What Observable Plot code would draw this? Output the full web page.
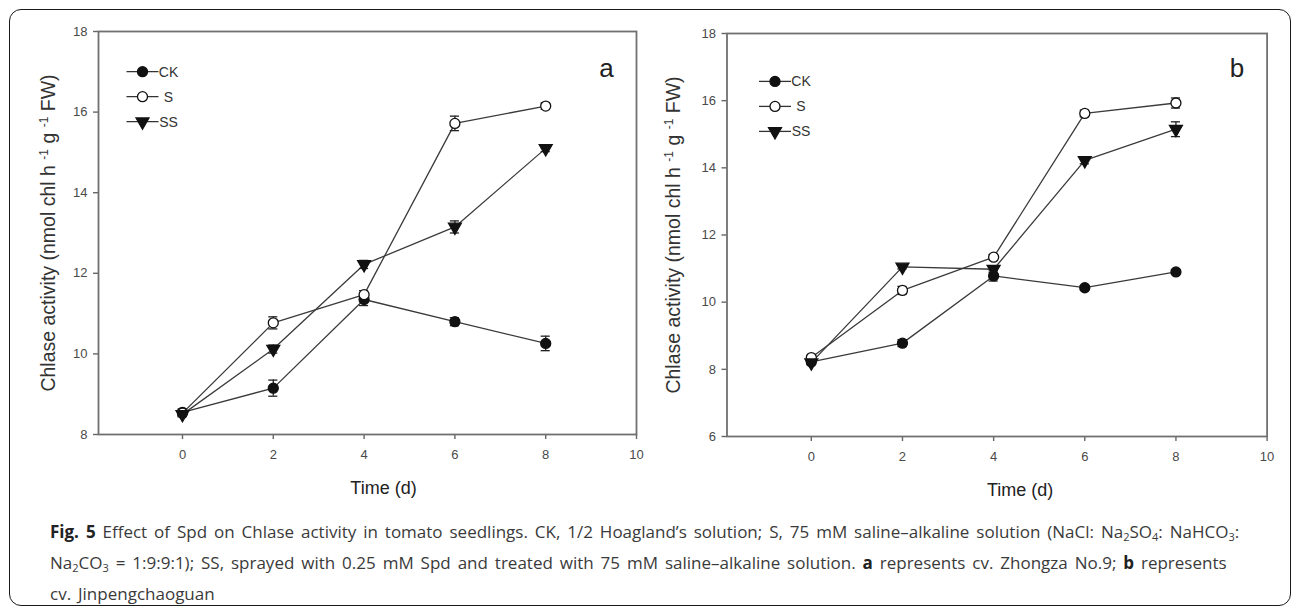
<!DOCTYPE html>
<html><head><meta charset="utf-8">
<script src="https://cdn.jsdelivr.net/npm/d3@7"></script>
<script src="https://cdn.jsdelivr.net/npm/@observablehq/plot@0.6"></script>
<style>
body{margin:0;background:#fff;}
#wrap{position:relative;width:1295px;height:607px;overflow:hidden;font-family:"Liberation Sans",Arial,sans-serif;}
#box{position:absolute;left:9px;top:9px;width:1280px;height:595px;border:1.5px solid #1a1a1a;border-radius:12px;}
#pa{position:absolute;left:0;top:0;}
#pb{position:absolute;left:660px;top:0;}
#cap{position:absolute;left:50px;top:516px;white-space:nowrap;font-family:"Open Sans",sans-serif;font-size:17px;word-spacing:2.5px;line-height:31px;color:#3a3a3a;}
#cap b{color:#222;}
#cap sub{font-size:11px;vertical-align:-3px;line-height:0;}
</style></head><body>
<div id="wrap"><div id="box"></div><div id="pa"></div><div id="pb"></div>
<div id="cap"><b>Fig. 5</b> Effect of Spd on Chlase activity in tomato seedlings. CK, 1/2 Hoagland’s solution; S, 75 mM saline–alkaline solution (NaCl: Na<sub>2</sub>SO<sub>4</sub>: NaHCO<sub>3</sub>:<br>Na<sub>2</sub>CO<sub>3</sub> = 1:9:9:1); SS, sprayed with 0.25 mM Spd and treated with 75 mM saline–alkaline solution. <b>a</b> represents cv. Zhongza No.9; <b>b</b> represents<br>cv. Jinpengchaoguan</div>
</div>
<script>
// ---- data ----
const time = [0, 2, 4, 6, 8];
const series = ["CK", "S", "SS"];
// panel a (cv. Zhongza No.9)
const aCK = [8.55, 9.15, 11.35, 10.80, 10.26];
const aCKerr = [0.08, 0.20, 0.15, 0.10, 0.18];
const aS = [8.53, 10.77, 11.47, 15.72, 16.15];
const aSerr = [0.06, 0.15, 0.10, 0.18, 0.08];
const aSS = [8.50, 10.12, 12.22, 13.15, 15.10];
const aSSerr = [0.06, 0.10, 0.10, 0.15, 0.08];
// panel b (cv. Jinpengchaoguan)
const bCK = [8.22, 8.78, 10.78, 10.43, 10.90];
const bCKerr = [0.05, 0.10, 0.15, 0.06, 0.06];
const bS = [8.35, 10.35, 11.34, 15.62, 15.93];
const bSerr = [0.06, 0.12, 0.08, 0.10, 0.15];
const bSS = [8.20, 11.05, 10.98, 14.22, 15.15];
const bSSerr = [0.06, 0.06, 0.10, 0.10, 0.22];
// axes
const xTicks = [0, 2, 4, 6, 8, 10];
const xDomain = [-1.85, 10];
const yTicksA = [8, 10, 12, 14, 16, 18];
const yTicksB = [6, 8, 10, 12, 14, 16, 18];
const yDomainA = [8, 18];
const yDomainB = [6, 18];
const xTitle = "Time (d)";
const yTitle = "Chlase activity (nmol chl h -1 g -1 FW)";

const markerFill = {CK: "#111", S: "#fff", SS: "#111"};
const markerSymbol = {CK: "circle", S: "circle", SS: "triangle"};
const markerRotate = {CK: 0, S: 0, SS: 180};
const markerR = {CK: 5, S: 5, SS: 4.8};
const FONT = "'Liberation Sans', Arial, sans-serif";

function build(el, cfg) {
  const data = [];
  series.forEach((s, i) => time.forEach((t, j) => data.push({series: s, t, v: cfg.values[i][j], e: cfg.errors[i][j]})));
  const dots = series.map(s => Plot.dot(data.filter(d => d.series === s), {
    x: "t", y: "v", symbol: markerSymbol[s], r: markerR[s], rotate: markerRotate[s],
    fill: markerFill[s], stroke: "#111", strokeWidth: 1.3
  }));
  const plot = Plot.plot({
    width: cfg.width, height: 520,
    marginLeft: cfg.ml, marginRight: cfg.mr, marginTop: cfg.mt, marginBottom: cfg.mb,
    x: {domain: xDomain, label: null},
    y: {domain: cfg.yDomain, label: null},
    style: {fontFamily: FONT, fontSize: "13px", color: "#4a4a4a", background: "transparent", overflow: "visible"},
    marks: [
      Plot.axisX({ticks: xTicks, tickSize: 5, tickPadding: 10, label: null, stroke: "#666", strokeWidth: 1.4, fill: "#4a4a4a", fontSize: 13}),
      Plot.axisY({ticks: cfg.yTicks, tickSize: 5, tickPadding: 6, label: null, stroke: "#666", strokeWidth: 1.4, fill: "#4a4a4a", fontSize: 13}),
      Plot.frame({stroke: "#707070", strokeWidth: 1.8}),
      Plot.line(data, {x: "t", y: "v", z: "series", stroke: "#3a3a3a", strokeWidth: 1.3}),
      Plot.ruleX(data, {x: "t", y1: d => d.v - d.e, y2: d => d.v + d.e, stroke: "#222", strokeWidth: 1.3}),
      Plot.ruleY(data, {y: d => d.v + d.e, x1: d => d.t - 0.1, x2: d => d.t + 0.1, stroke: "#222", strokeWidth: 1.3}),
      Plot.ruleY(data, {y: d => d.v - d.e, x1: d => d.t - 0.1, x2: d => d.t + 0.1, stroke: "#222", strokeWidth: 1.3}),
      ...dots,
      Plot.text([xTitle], {frameAnchor: "bottom", textAnchor: "middle", dx: cfg.xtDx, dy: 59, fontSize: 18, fill: "#222", fontFamily: FONT}),
      Plot.text([yTitle], {frameAnchor: "left", textAnchor: "middle", rotate: -90, dx: cfg.ytDx, fontSize: 19.5, fill: "#333", fontFamily: FONT}),
      Plot.text([cfg.letter], {frameAnchor: "top-right", textAnchor: "middle", dx: -30, dy: cfg.letterDy, fontSize: 26, fill: "#222", fontFamily: FONT})
    ]
  });
  const svg = d3.select(plot);
  // superscripts in y title
  svg.selectAll("text").filter(function() { return this.textContent === yTitle; }).each(function() {
    const t = d3.select(this).text(null).attr("text-anchor", "middle");
    const parts = [["Chlase activity (nmol chl h ", false], ["-1", true], [" g ", false], ["-1", true], [" FW)", false]];
    parts.forEach(([s, sup]) => {
      const ts = t.append("tspan").text(s);
      if (sup) ts.attr("font-size", 12).attr("baseline-shift", "super");
    });
  });
  // legend
  const xr = plot.scale("x").range, yr = plot.scale("y").range;
  const left = Math.min(...xr), top = Math.min(...yr);
  const g = svg.append("g").attr("font-family", FONT).attr("font-size", 14).attr("fill", "#333");
  series.forEach((s, i) => {
    const cx = left + cfg.legDx, cy = top + cfg.legDy + i * 25;
    g.append("line").attr("x1", cx - 16).attr("x2", cx + 16).attr("y1", cy).attr("y2", cy).attr("stroke", "#333").attr("stroke-width", 1.3);
    g.append("path").attr("d", d3.symbol(s === "SS" ? d3.symbolTriangle : d3.symbolCircle, Math.PI * markerR[s] * markerR[s])())
      .attr("transform", `translate(${cx},${cy}) rotate(${markerRotate[s]})`)
      .attr("fill", markerFill[s]).attr("stroke", "#111").attr("stroke-width", 1.3);
    g.append("text").attr("x", cx + 26).attr("y", cy).attr("dy", "0.36em").text(s);
  });
  document.getElementById(el).appendChild(plot);
}

build("pa", {width: 660, ml: 98, mr: 24, mt: 31, mb: 86, yDomain: yDomainA, yTicks: yTicksA,
  values: [aCK, aS, aSS], errors: [aCKerr, aSerr, aSSerr], letter: "a", letterDy: 27, xtDx: 16, ytDx: -50, legDx: 44.5, legDy: 40.7});
build("pb", {width: 635, ml: 66.5, mr: 28.4, mt: 33, mb: 84, yDomain: yDomainB, yTicks: yTicksB,
  values: [bCK, bS, bSS], errors: [bCKerr, bSerr, bSSerr], letter: "b", letterDy: 25, xtDx: 23, ytDx: -53, legDx: 48.5, legDy: 48.4});
</script>
</body></html>
